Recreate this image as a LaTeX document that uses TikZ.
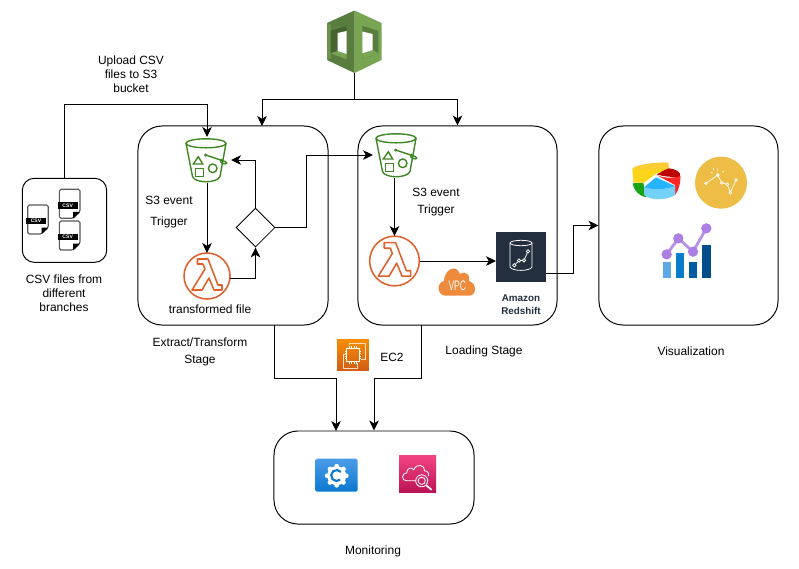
\documentclass[tikz,border=0pt]{standalone}
\usepackage{fontspec}
\setmainfont{Liberation Sans}
\usetikzlibrary{arrows.meta, shapes.geometric, calc}
\definecolor{bucketgreen}{HTML}{3F8624}
\definecolor{lambdaorange}{HTML}{E0602B}
\definecolor{navy}{HTML}{232F3E}
\definecolor{vpcorange}{HTML}{EE8A3C}
\definecolor{cubelight}{HTML}{77A552}
\definecolor{cubedark}{HTML}{587D3F}
\definecolor{goldy}{HTML}{EDBD45}
\definecolor{purply}{HTML}{AB7FE3}
\definecolor{ectop}{HTML}{F78E04}
\definecolor{ecbot}{HTML}{D05C17}
\definecolor{graftop}{HTML}{4C9CE8}
\definecolor{grafbot}{HTML}{0A78D0}
\definecolor{cwtop}{HTML}{F34482}
\definecolor{cwbot}{HTML}{BC1356}

\tikzset{
  lbl/.style={font=\fontsize{8.5}{10}\selectfont, align=center, inner sep=0pt},
  stagebox/.style={draw, line width=0.7pt, rounded corners=0.6cm, inner sep=0pt},
  iconnode/.style={inner sep=0pt, outer sep=0pt},
  flow/.style={line width=0.65pt, -{Stealth[length=2.5mm,width=2.4mm,inset=0.7mm]}},
  pics/bucket/.style={code={
    \begin{scope}[bucketgreen, line width=1pt]
      \draw (-1,-16.7) ellipse [x radius=20, y radius=4.5];
      \draw (-21,-16.7) -- (-14.5,16.5) .. controls (-12,23.5) and (10,23.5) .. (13,16.5) -- (19,-16.7);
      \draw (-8.7,-3.3) -- (-13.7,4) -- (-4.3,4) -- cycle;
      \draw (-11.3,8.3) rectangle (-3.7,16.7);
      \draw (5.7,8.3) circle (4.3);
      \fill (-1.3,-5) circle (1.7);
      \draw (-1.3,-5) -- (18,1.5) .. controls (21,3) and (20,4.5) .. (16,3.5) .. controls (13,2.5) and (13,0) .. (15,-1);
    \end{scope}
  }},
  pics/lambda/.style={code={
    \begin{scope}[lambdaorange, line width=1.1pt, line join=round]
      \draw (0,0) circle (23);
      \draw (-9.5,-17) -- (-9.5,-12) -- (-4,-12) -- (-2,-7) -- (-15,14) -- (-5,14) -- (2,2) -- (7,14)
        -- (15,14) -- (15,9) -- (11,9) -- (1,-17) -- cycle;
    \end{scope}
  }},
  pics/csvdoc/.style={code={
    \draw[black!65, line width=0.8pt, rounded corners=0.04cm] (-10.3,-14.5) -- (10.3,-14.5) -- (10.3,8) -- (3.5,14.5) -- (-10.3,14.5) -- cycle;
    \fill[black] (3.5,14.5) -- (10.3,8) -- (3.5,8) -- cycle;
    \node[fill=black, text=white, inner sep=0pt, minimum width=0.49cm, minimum height=0.165cm, font=\fontsize{3.6}{4}\selectfont\bfseries] (-band) at (-2,1.5) {CSV};
  }}
}

\begin{document}
\begin{tikzpicture}[x=0.025cm, y=-0.025cm]
  \useasboundingbox (0,0) rectangle (799,568);
  % stages
  \node[stagebox, minimum width=2.11cm, minimum height=2.1cm, rounded corners=0.3cm] (csvbox) at (64.5,220.3) {};
  \node[stagebox, minimum width=4.75cm, minimum height=4.975cm] (etlbox) at (233,225.5) {};
  \node[stagebox, minimum width=4.975cm, minimum height=4.975cm] (loadbox) at (457.5,225.5) {};
  \node[stagebox, minimum width=4.475cm, minimum height=4.975cm] (vizbox) at (688.5,225.5) {};
  \node[stagebox, minimum width=5cm, minimum height=2.325cm] (monbox) at (374,477.5) {};
  \coordinate (etltop) at (262,126);
  \coordinate (etlout) at (274,325);
  \coordinate (loadout) at (421,325);
  \coordinate (monin) at (336,431);

  % csv files
  \pic (csvone) at (38,219.5) {csvdoc};
  \pic (csvtwo) at (69.7,203.8) {csvdoc};
  \pic (csvthree) at (69.7,235.5) {csvdoc};

  % cube on top
  \node[iconnode, minimum width=1.375cm, minimum height=1.575cm] (cube) at (354.5,41.5) {};
  \fill[cubelight] (354.5,10.5) -- (381.5,23) -- (381.5,60) -- (354.5,73) -- cycle;
  \fill[cubedark] (354.5,10.5) -- (327,23) -- (327,60) -- (354.5,73) -- cycle;
  \fill[cubelight!90!black] (327,23) -- (331,25) -- (331,58) -- (327,60) -- cycle;
  \fill[cubedark] (362.3,26) -- (378.3,30.7) -- (378.3,53.3) -- (362.3,59.3) -- cycle;
  \fill[cubelight] (362.3,53.3) -- (372.7,50) -- (378.3,53.3) -- (362.3,59.3) -- cycle;
  \fill[white] (362.3,31.5) -- (372.7,34) -- (372.7,50) -- (362.3,53.3) -- cycle;
  \fill[cubedark!80!black] (330.7,30.7) -- (346.7,26) -- (346.7,59.3) -- (330.7,53.3) -- cycle;
  \fill[cubelight] (330.7,53.3) -- (337.7,51) -- (346.7,54) -- (346.7,59.3) -- cycle;
  \fill[white] (337.7,33) -- (346.7,31) -- (346.7,54) -- (337.7,51) -- cycle;

  % extract and transform
  \node[iconnode, minimum width=1.2cm, minimum height=1.15cm] (bucketa) at (207,160) {};
  \pic at (bucketa) {bucket};
  \node[iconnode, circle, minimum size=1.15cm] (lambdaa) at (207,276) {};
  \pic at (lambdaa) {lambda};
  \node[draw, diamond, aspect=1, inner sep=0pt, minimum size=0.975cm, line width=0.6pt] (gate) at (255.5,227.5) {};

  % loading
  \node[iconnode, minimum width=1.2cm, minimum height=1.15cm] (bucketb) at (397,155) {};
  \pic at (bucketb) {bucket};
  \node[iconnode, circle, minimum size=1.25cm] (lambdab) at (394.5,261) {};
  \pic[scale=1.08] at (lambdab) {lambda};
  \node[iconnode, fill=navy, minimum size=1.25cm] (redshift) at (521,257) {};
  \begin{scope}[shift={(521,257)}, white, line width=0.55pt]
    \draw (0,-14) ellipse [x radius=11, y radius=2.7];
    \draw (-11,-14) -- (-11,10) .. controls (-9,14.5) and (9,14.5) .. (11,10) -- (11,-14);
    \draw (-6.7,8.3) -- (-2,3.5) -- (3,3.3) -- (7,-5.7);
    \foreach \px/\py in {-6.7/8.3, -2/3.5, 3/3.3, 7/-5.7} \filldraw[fill=navy] (\px,\py) circle (1.7);
  \end{scope}
  \coordinate (vpcpos) at (457.3,281.7);
  \fill[vpcorange] (446,295.7) .. controls (437,295.7) and (436,283) .. (444,281) .. controls (444,270) and (456,263) .. (460,274)
    .. controls (466,270) and (471,276) .. (469,281) .. controls (477,283) and (477,295.7) .. (469,295.7) -- cycle;
  \node[lbl, text=white, font=\fontsize{9.8}{10}\selectfont] (vpctext) at (457.3,285.7) {\scalebox{0.62}[1]{VPC}};
  \node[lbl, text=navy, font=\fontsize{7}{9.3}\selectfont\bfseries] (redshifttext) at (521,304.5) {Amazon\\Redshift};

  % ec2
  \node[iconnode, minimum size=0.79cm, top color=ectop, bottom color=ecbot] (ectwo) at (353,355) {};
  \begin{scope}[shift={(353,355)}, line width=0.55pt]
    \draw[white!75!orange] (-4,-10) -- (-4,-12) -- (12,-12) -- (12,4) -- (8,4);
    \draw[white!75!orange] (-6,-1) -- (-10,-1) -- (-10,13) -- (4,13) -- (4,8);
    \draw[white] (-6.3,-6.7) rectangle (6.3,6.7);
    \foreach \t in {-4,-1.5,1,3.5} {
      \draw[white] (\t,-6.7) -- ++(0,-2) (\t,6.7) -- ++(0,2) (-6.3,\t) -- ++(-2,0) (6.3,\t) -- ++(2,0);
    }
  \end{scope}

  % monitoring icons
  \node[iconnode, rounded corners=0.04cm, minimum width=1.06cm, minimum height=0.825cm, top color=graftop, bottom color=grafbot] (grafana) at (336.5,475.2) {};
  \begin{scope}[shift={(336.7,475.7)}]
    \foreach \a in {0,45,...,315} \fill[white] (\a:9.5) circle (2.4);
    \fill[white] (0,0) circle (9.5);
    \draw[grafbot, line width=1.5pt] (3.5,4) arc[start angle=50, end angle=320, radius=5.5];
    \fill[white] (1.2,0) circle (3);
  \end{scope}
  \node[iconnode, minimum size=0.925cm, top color=cwtop, bottom color=cwbot] (cloudwatch) at (417.7,473.8) {};
  \begin{scope}[shift={(417.7,473.8)}, white, line width=0.6pt]
    \draw (-2,7) -- (-11,7) .. controls (-17,7) and (-16,-1) .. (-11,-1) .. controls (-11,-6) and (-6,-7) .. (-4,-4)
      .. controls (-1,-11) and (7,-9) .. (7,-3) .. controls (10,-3) and (12,0) .. (11,2);
    \draw (4,7) circle (6);
    \draw (4,7) circle (3.6);
    \draw[line width=1.2pt] (8.5,11.5) -- (14,16);
  \end{scope}

  % visualization icons
  \node[iconnode, minimum width=1.225cm, minimum height=0.925cm] (piechart) at (656,181) {};
  \begin{scope}[shift={(620,140)}, x=0.008333cm, y=-0.008333cm]
    \fill[green!60!black!90!white] (38,130) -- (70,128) -- (78,172) .. controls (60,168) and (42,155) .. (38,130) -- cycle;
    \fill[yellow!70!orange!90!white] (37,85) -- (147,80) -- (147,92) -- (110,100) -- (72,128) -- (40,128) -- cycle;
    \fill[yellow!55!orange!80!white] (37,85) .. controls (50,72) and (120,65) .. (145,68) -- (147,85) .. controls (110,88) and (65,90) .. (37,85) -- cycle;
    \fill[red!75!black] (110,103) -- (145,85) .. controls (170,88) and (182,95) .. (181,110) .. controls (160,112) and (130,110) .. (110,103) -- cycle;
    \fill[red!85!white] (110,105) .. controls (130,115) and (160,115) .. (181,108) .. controls (182,135) and (175,150) .. (165,165) -- (165,135) -- cycle;
    \fill[cyan!55!white] (72,142) .. controls (95,150) and (140,150) .. (165,138) -- (165,165) .. controls (140,182) and (90,182) .. (72,165) -- cycle;
    \fill[blue!35!cyan!85!white] (72,142) -- (108,112) -- (165,138) .. controls (140,150) and (95,150) .. (72,142) -- cycle;
  \end{scope}
  \node[iconnode, circle, fill=goldy, minimum size=1.3cm] (goldchart) at (721,182.7) {};
  \begin{scope}[shift={(620,140)}, x=0.008333cm, y=-0.008333cm, white, line width=0.5pt]
    \draw (258,130) -- (293,105) -- (305,128) -- (322,133) -- (331,158) -- (348,120);
    \foreach \px/\py in {258/130, 305/128, 322/133, 331/158, 348/120} \filldraw[fill=goldy] (\px,\py) circle (4);
    \fill (293,105) circle (5.5);
    \draw (293,92) -- (293,85) (278,100) -- (272,96) (306,97) -- (312,93) (282,90) -- (279,85);
  \end{scope}
  \node[iconnode, minimum width=1.2cm, minimum height=1.25cm] (barchart) at (687,249) {};
  \begin{scope}[shift={(620,140)}, x=0.008333cm, y=-0.008333cm]
    \definecolor{barone}{HTML}{5EA8E8}
    \definecolor{bartwo}{HTML}{0A7CCC}
    \definecolor{barthree}{HTML}{005BA1}
    \definecolor{barfour}{HTML}{004E8C}
    \fill[barone] (128,365) rectangle (153,413);
    \fill[bartwo] (167,340) rectangle (193,413);
    \fill[barthree] (207,365) rectangle (232,413);
    \fill[barfour] (247,315) rectangle (272,413);
    \draw[purply!85!white, line width=2pt] (140,343) -- (175,295) -- (219,335) -- (259,265);
    \foreach \px/\py in {140/343, 175/295, 219/335, 259/265} \fill[purply] (\px,\py) circle (15.5);
  \end{scope}

  % connectors
  \draw[flow] (csvbox.north) -- ++(0,-73) -| (bucketa.north);
  \draw[flow] (cube.south) -- ++(0,26) -| (etltop);
  \draw[flow] (cube.south) -- ++(0,26) -| (loadbox.north);
  \draw[flow] (bucketa.south) -- (lambdaa.north);
  \draw[flow] (lambdaa.-5) -| (gate.south);
  \draw[flow] (gate.north) |- (bucketa.east);
  \draw[flow] (gate.east) -- ++(31,0) |- (bucketb.west);
  \draw[flow] (bucketb.south -| lambdab.north) -- (lambdab.north);
  \draw[flow] (lambdab.east) -- (lambdab.east -| redshift.west);
  \draw[flow] ([yshift=-0.4cm]redshift.east) -- ++(27,0) |- (vizbox.west);
  \draw[flow] (etlout) -- ++(0,53) -| (monin);
  \draw[flow] (loadout) -- ++(0,53) -| (monbox.north);

  % labels
  \node[lbl] (uploadlabel) at (131,74) {Upload CSV\\files to S3\\bucket};
  \node[lbl] (csvlabel) at (64,293) {CSV files from\\different\\branches};
  \node[lbl, font=\fontsize{8.5}{15}\selectfont] (triggera) at (169,212.5) {S3 event\\Trigger};
  \node[lbl] (translabel) at (210,309) {transformed file};
  \node[lbl, font=\fontsize{8.5}{11.5}\selectfont] (triggerb) at (436,202) {S3 event\\Trigger};
  \node[lbl, font=\fontsize{8.5}{12}\selectfont] (etllabel) at (200,351.5) {Extract/Transform\\Stage};
  \node[lbl] (loadlabel) at (484,351) {Loading Stage};
  \node[lbl] (ectext) at (392,357) {EC2};
  \node[lbl] (vizlabel) at (691,351) {Visualization};
  \node[lbl] (monlabel) at (373,551) {Monitoring};
\end{tikzpicture}
\end{document}
